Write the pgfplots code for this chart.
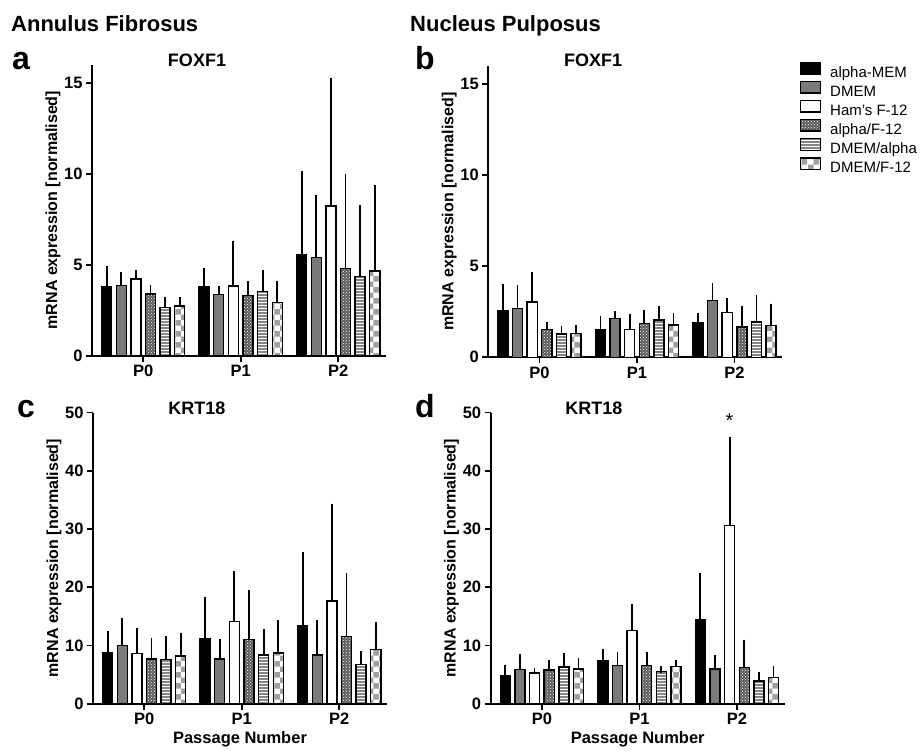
\documentclass[border=0pt]{standalone}
\usepackage{fontspec}
\setmainfont{Liberation Sans}
\usepackage{pgfplots}
\pgfplotsset{compat=1.18}
\usetikzlibrary{patterns}
\newcommand\fs[1]{\fontsize{#1}{#1}\selectfont}
\definecolor{dmem}{HTML}{7A7A7A}
\definecolor{hatch}{HTML}{858585}
\definecolor{dots}{HTML}{5A5A5A}

\pgfplotsset{
  panel/.style={
    scale only axis, width=294pt, height=291.2pt,
    anchor=south west,
    xmin=-0.525, xmax=2.49, ymin=0,
    axis x line=bottom, axis y line=left,
    axis line style={-, line width=1.7pt},
    every tick/.style={black, line width=1.7pt},
    major tick length=6pt, tick align=outside,
    xtick={0,1,2}, xticklabels={P0,P1,P2},
    ticklabel style={font=\bfseries\fs{16.5}},
    /pgf/number format/assume math mode=true,
    ylabel={mRNA expression [normalised]},
    every axis y label/.style={at={(axis description cs:-0.133,0.5)}, rotate=90, anchor=center, font=\bfseries\fs{16}},
    every axis x label/.style={at={(axis description cs:0.5,-0.135)}, anchor=base, font=\bfseries\fs{16.5}},
    ybar, bar width=0.103,
    clip=false,
    legend image code/.code={\draw[##1] (0pt,-0.5pt) rectangle (20pt,11pt);},
  },
  eb/.style={error bars/.cd, y dir=plus, y explicit, error mark=-,
    error bar style={black, line width=1.8pt},
    error mark options={black, line width=1.8pt, mark size=3.2pt}},
  s1/.style={draw=black, line width=1.4pt, fill=black, bar shift=-0.375, eb},
  s2/.style={draw=black, line width=1.4pt, fill=dmem, bar shift=-0.225, eb},
  s3/.style={draw=black, line width=1.4pt, fill=white, bar shift=-0.075, eb},
  s4/.style={draw=black, line width=1.4pt, preaction={fill=dots}, pattern=crosshatch dots, pattern color=white, bar shift=0.075, eb},
  s5/.style={draw=black, line width=1.4pt, preaction={fill=hatch}, pattern=horizontal lines, pattern color=white, bar shift=0.225, eb},
  s6/.style={draw=black, line width=1.4pt, preaction={fill=white}, pattern=checkerboard, pattern color=gray!75, bar shift=0.375, eb},
}

\begin{document}
\begin{tikzpicture}
\path[use as bounding box] (0,0) rectangle (921pt,-750pt);

% headings and panel letters
\node[anchor=base west, inner sep=0pt] at (11pt,-31pt) {\bfseries\fs{22}Annulus Fibrosus};
\node[anchor=base west, inner sep=0pt] at (410pt,-31pt) {\bfseries\fs{22}Nucleus Pulposus};
\node[anchor=base west, inner sep=0pt] at (12pt,-69pt) {\bfseries\fs{32}a};
\node[anchor=base west, inner sep=0pt] at (415pt,-69pt) {\bfseries\fs{32}b};
\node[anchor=base west, inner sep=0pt] at (17pt,-417pt) {\bfseries\fs{32}c};
\node[anchor=base west, inner sep=0pt] at (415pt,-417pt) {\bfseries\fs{32}d};
\node[anchor=base, inner sep=0pt] at (197pt,-66pt) {\bfseries\fs{18}FOXF1};
\node[anchor=base, inner sep=0pt] at (593pt,-66pt) {\bfseries\fs{18}FOXF1};
\node[anchor=base, inner sep=0pt] at (197pt,-414pt) {\bfseries\fs{18}KRT18};
\node[anchor=base, inner sep=0pt] at (594pt,-414pt) {\bfseries\fs{18}KRT18};

% a: Annulus Fibrosus, FOXF1
\begin{axis}[panel, at={(92pt,-355.7pt)}, ymax=16, ytick={0,5,10,15}]
\addplot[s1] coordinates {(0,3.79) +- (0,0.95) (1,3.79) +- (0,0.86) (2,5.53) +- (0,4.45)};
\addplot[s2] coordinates {(0,3.86) +- (0,0.57) (1,3.37) +- (0,0.27) (2,5.38) +- (0,3.26)};
\addplot[s3] coordinates {(0,4.21) +- (0,0.31) (1,3.83) +- (0,2.31) (2,8.22) +- (0,6.89)};
\addplot[s4] coordinates {(0,3.39) +- (0,0.31) (1,3.32) +- (0,0.62) (2,4.80) +- (0,5.00)};
\addplot[s5] coordinates {(0,2.66) +- (0,0.40) (1,3.52) +- (0,0.99) (2,4.34) +- (0,3.76)};
\addplot[s6] coordinates {(0,2.73) +- (0,0.33) (1,2.93) +- (0,0.99) (2,4.65) +- (0,4.58)};
\end{axis}

% b: Nucleus Pulposus, FOXF1 (carries the legend)
\begin{axis}[panel, at={(488.3pt,-357.3pt)}, ymax=16, ytick={0,5,10,15},
  legend entries={alpha-MEM, DMEM, Ham's F-12, alpha/F-12, DMEM/alpha, DMEM/F-12},
  legend cell align=left,
  legend style={at={(1.0588,1.016)}, anchor=north west, draw=none, fill=none,
    inner sep=0pt, font=\fs{15}, row sep=-0.6pt,
    nodes={inner sep=0pt, text height=12pt, text depth=4pt},
    /tikz/every odd column/.append style={column sep=9pt}}]
\addlegendimage{draw=black, line width=1.4pt, fill=black}
\addlegendimage{draw=black, line width=1.4pt, fill=dmem}
\addlegendimage{draw=black, line width=1.4pt, fill=white}
\addlegendimage{draw=black, line width=1.4pt, preaction={fill=dots}, pattern=crosshatch dots, pattern color=white}
\addlegendimage{draw=black, line width=1.4pt, preaction={fill=hatch}, pattern=horizontal lines, pattern color=white}
\addlegendimage{draw=black, line width=1.4pt, preaction={fill=white}, pattern=checkerboard, pattern color=gray!75}
\addplot[s1] coordinates {(0,2.56) +- (0,1.27) (1,1.54) +- (0,0.57) (2,1.92) +- (0,0.35)};
\addplot[s2] coordinates {(0,2.69) +- (0,1.10) (1,2.14) +- (0,0.22) (2,3.11) +- (0,0.77)};
\addplot[s3] coordinates {(0,3.04) +- (0,1.48) (1,1.54) +- (0,0.69) (2,2.47) +- (0,0.59)};
\addplot[s4] coordinates {(0,1.54) +- (0,0.20) (1,1.87) +- (0,0.53) (2,1.67) +- (0,1.00)};
\addplot[s5] coordinates {(0,1.28) +- (0,0.26) (1,2.05) +- (0,0.61) (2,1.94) +- (0,1.30)};
\addplot[s6] coordinates {(0,1.32) +- (0,0.26) (1,1.78) +- (0,0.49) (2,1.74) +- (0,1.03)};
\end{axis}

% c: Annulus Fibrosus, KRT18
\begin{axis}[panel, at={(93pt,-703.7pt)}, ymax=50, ytick={0,10,...,50},
  xlabel={Passage Number}]
\addplot[s1] coordinates {(0,8.70) +- (0,3.20) (1,11.10) +- (0,6.63) (2,13.33) +- (0,12.13)};
\addplot[s2] coordinates {(0,9.95) +- (0,4.25) (1,7.67) +- (0,2.86) (2,8.35) +- (0,5.44)};
\addplot[s3] coordinates {(0,8.64) +- (0,3.76) (1,14.07) +- (0,8.18) (2,17.62) +- (0,16.19)};
\addplot[s4] coordinates {(0,7.67) +- (0,3.09) (1,10.98) +- (0,7.96) (2,11.56) +- (0,10.35)};
\addplot[s5] coordinates {(0,7.61) +- (0,3.43) (1,8.35) +- (0,3.95) (2,6.69) +- (0,1.83)};
\addplot[s6] coordinates {(0,8.18) +- (0,3.49) (1,8.70) +- (0,5.09) (2,9.32) +- (0,4.12)};
\end{axis}

% d: Nucleus Pulposus, KRT18
\begin{axis}[panel, at={(490.7pt,-703.7pt)}, ymax=50, ytick={0,10,...,50},
  xlabel={Passage Number}]
\addplot[s1] coordinates {(0,4.81) +- (0,1.25) (1,7.38) +- (0,1.43) (2,14.36) +- (0,7.61)};
\addplot[s2] coordinates {(0,5.89) +- (0,2.06) (1,6.52) +- (0,1.78) (2,5.95) +- (0,1.94)};
\addplot[s3] coordinates {(0,5.26) +- (0,0.40) (1,12.53) +- (0,4.00) (2,30.60) +- (0,14.70)};
\addplot[s4] coordinates {(0,5.78) +- (0,1.20) (1,6.58) +- (0,1.72) (2,6.18) +- (0,4.29)};
\addplot[s5] coordinates {(0,6.29) +- (0,1.83) (1,5.55) +- (0,0.34) (2,3.89) +- (0,0.92)};
\addplot[s6] coordinates {(0,5.95) +- (0,1.43) (1,6.35) +- (0,0.69) (2,4.46) +- (0,1.55)};
\node[font=\fs{20}] at (axis cs:1.925,48.6) {*};
\end{axis}
\end{tikzpicture}
\end{document}
